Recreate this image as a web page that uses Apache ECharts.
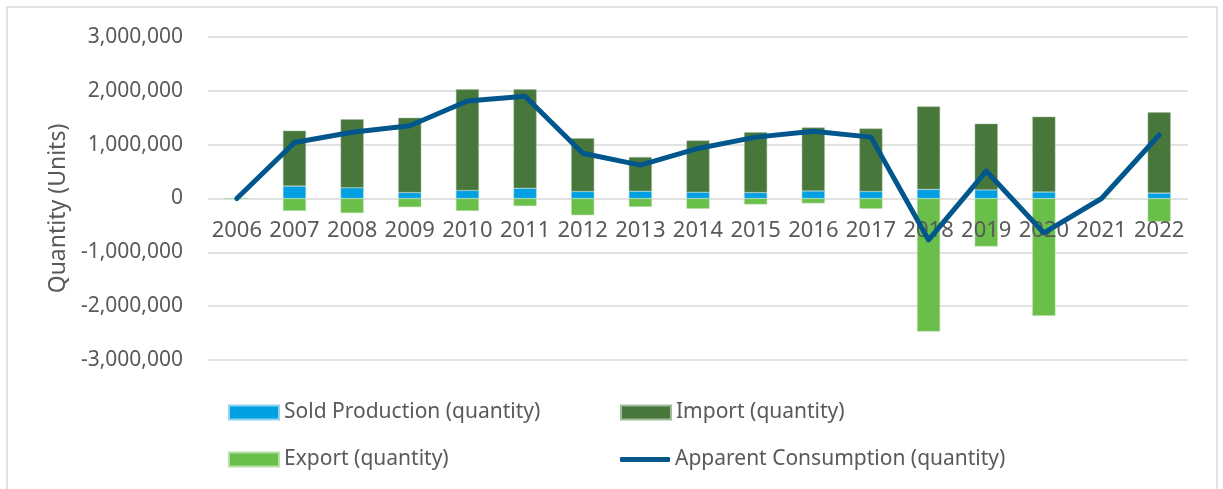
<!DOCTYPE html>
<html>
<head>
<meta charset="utf-8">
<script src="https://cdn.jsdelivr.net/npm/echarts@6/dist/echarts.min.js"></script>
<style>
  html, body { margin: 0; padding: 0; background: #fff; }
  #chart { width: 1223px; height: 489px; }
</style>
</head>
<body>
<div id="chart"></div>
<script>
const years = ['2006', '2007', '2008', '2009', '2010', '2011', '2012', '2013', '2014',
  '2015', '2016', '2017', '2018', '2019', '2020', '2021', '2022'];
const soldProduction = [0, 230000, 200000, 110000, 150000, 190000, 130000, 135000, 117000,
  110000, 140000, 130000, 170000, 160000, 120000, 0, 100000];
const imports = [0, 1030000, 1270000, 1390000, 1880000, 1840000, 990000, 635000, 960000,
  1120000, 1180000, 1170000, 1540000, 1230000, 1400000, 0, 1500000];
const exports = [0, -230000, -270000, -160000, -230000, -140000, -310000, -155000, -190000,
  -110000, -90000, -190000, -2470000, -890000, -2180000, 0, -430000];
const consumption = [0, 1040000, 1230000, 1350000, 1810000, 1900000, 840000, 620000, 930000,
  1140000, 1250000, 1140000, -770000, 510000, -640000, 0, 1180000];

const font = 'Noto Sans';
const txt = '#595959';

const chart = echarts.init(document.getElementById('chart'));

function legendAt(name, left, top, icon, h) {
  return {
    data: [name],
    left: left,
    top: top,
    padding: 0,
    icon: icon,
    itemWidth: 50,
    itemHeight: h || 14,
    itemGap: 5,
    textStyle: { color: txt, fontSize: 21, fontFamily: font }
  };
}

chart.setOption({
  animation: false,
  grid: { left: 208, right: 35, top: 37, bottom: 129 },
  legend: [
    legendAt('Sold Production (quantity)', 228, 402, 'rect'),
    legendAt('Import (quantity)', 620, 402, 'rect'),
    legendAt('Export (quantity)', 228, 449, 'rect'),
    legendAt('Apparent Consumption (quantity)', 620, 449, 'roundRect', 5)
  ],
  graphic: [{
    type: 'rect',
    shape: { x: 7, y: 7, width: 1210, height: 500 },
    style: { fill: 'none', stroke: '#d9d9d9', lineWidth: 1.5 },
    silent: true
  }],
  xAxis: {
    type: 'category',
    data: years,
    position: 'bottom',
    offset: -161.5,
    z: 3,
    axisLine: { show: false, onZero: false },
    axisTick: { show: false },
    axisLabel: { color: txt, fontSize: 22, fontFamily: font, margin: 21, interval: 0 }
  },
  yAxis: {
    type: 'value',
    min: -3000000,
    max: 3000000,
    interval: 1000000,
    name: 'Quantity (Units)',
    nameLocation: 'middle',
    nameGap: 136,
    nameTextStyle: { color: txt, fontSize: 23, fontFamily: font, padding: [0, 20, 0, 0] },
    axisLine: { show: false },
    axisTick: { show: false },
    splitLine: { lineStyle: { color: '#d9d9d9', width: 1.5 } },
    axisLabel: {
      color: txt, fontSize: 21, fontFamily: font, margin: 25,
      formatter: v => v.toLocaleString('en-US')
    }
  },
  series: [
    {
      name: 'Sold Production (quantity)',
      type: 'bar',
      stack: 'q',
      barWidth: 23,
      data: soldProduction,
      itemStyle: { color: '#00a0e1', borderColor: '#8fd3f0', borderWidth: 0.5 }
    },
    {
      name: 'Import (quantity)',
      type: 'bar',
      stack: 'q',
      data: imports,
      itemStyle: { color: '#47773b', borderColor: '#a3bb9c', borderWidth: 0.5 }
    },
    {
      name: 'Export (quantity)',
      type: 'bar',
      stack: 'q',
      data: exports,
      itemStyle: { color: '#6abf4b', borderColor: '#b5dfa5', borderWidth: 0.5 }
    },
    {
      name: 'Apparent Consumption (quantity)',
      type: 'line',
      data: consumption,
      symbol: 'none',
      z: 5,
      lineStyle: { color: '#01568c', width: 5, cap: 'round', join: 'round' },
      itemStyle: { color: '#01568c' }
    }
  ]
});
</script>
</body>
</html>
